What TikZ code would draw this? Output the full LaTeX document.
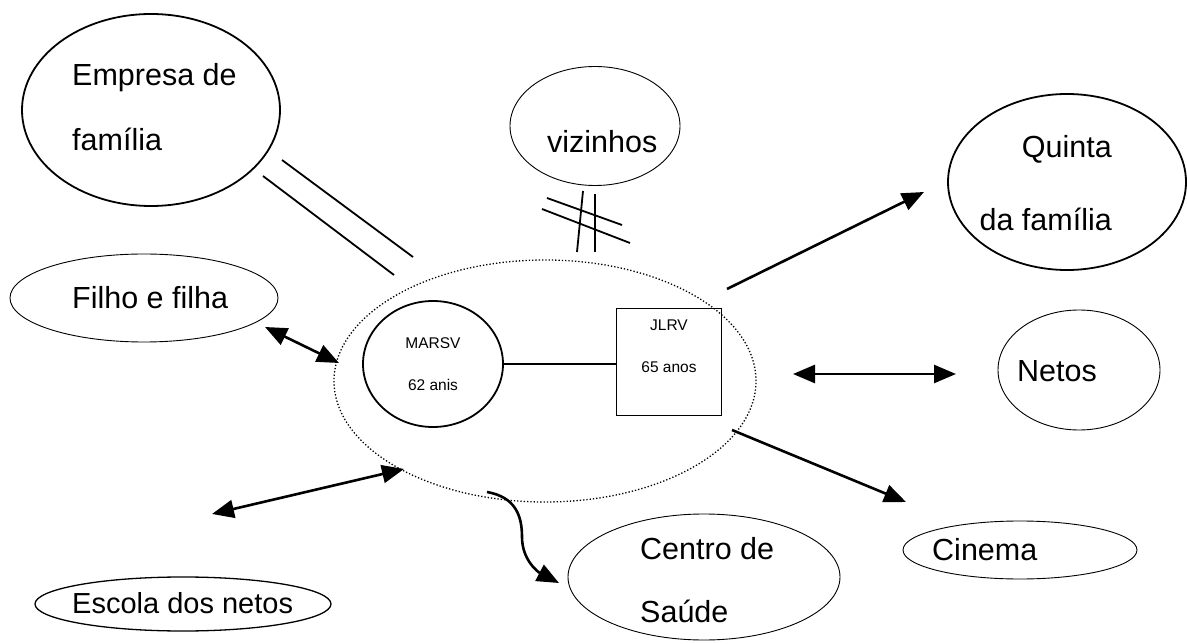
\documentclass[tikz,border=0pt]{standalone}
\usepackage{fontspec}
\setmainfont{Liberation Sans}
\usetikzlibrary{shapes.geometric,arrows.meta}
\begin{document}
\begin{tikzpicture}[x=1pt,y=-1pt,
  thickell/.style={draw, ellipse, line width=1.8pt, inner sep=0pt},
  thinell/.style={draw, ellipse, line width=0.9pt, inner sep=0pt},
  bigtxt/.style={font=\fontsize{30.5}{65}\selectfont, inner sep=0pt, align=left},
  smalltxt/.style={font=\fontsize{15.5}{42}\selectfont, inner sep=0pt, align=center},
  arr/.style={line width=2.6pt, -{Triangle[length=22pt,width=18pt]}},
  darr/.style={line width=2.6pt, {Triangle[length=22pt,width=18pt]}-{Triangle[length=22pt,width=18pt]}},
  bar/.style={line width=1.8pt}]
\useasboundingbox (0,0) rectangle (1187,644);
% ellipses
\node[thickell, minimum width=258pt, minimum height=192pt] (emp) at (151,110) {};
\node[bigtxt, anchor=west] (empt) at (72,107) {Empresa de\\família};
\node[thinell, minimum width=170pt, minimum height=119pt] (viz) at (595,126) {};
\node[bigtxt, anchor=west] (vizt) at (547,142) {vizinhos};
\node[thickell, minimum width=238pt, minimum height=176pt] (qui) at (1067,182) {};
\node[bigtxt, anchor=east, align=right, font=\fontsize{30.5}{73}\selectfont] (quit) at (1112,183) {Quinta\\da família};
\node[thinell, minimum width=268pt, minimum height=88pt] (fil) at (144,298) {};
\node[bigtxt, anchor=west] (filt) at (72,298) {Filho e filha};
\node[thinell, minimum width=162pt, minimum height=120pt] (net) at (1079,370) {};
\node[bigtxt, anchor=west] (nett) at (1017,371) {Netos};
\node[thinell, minimum width=234pt, minimum height=58pt] (cin) at (1020,550) {};
\node[bigtxt, anchor=west] (cint) at (932,550) {Cinema};
\node[thinell, minimum width=272pt, minimum height=126pt] (cen) at (704,577) {};
\node[bigtxt, anchor=west, font=\fontsize{30.5}{63}\selectfont] (cent) at (640,580) {Centro de\\Saúde};
\node[thinell, line width=1.3pt, minimum width=296pt, minimum height=54pt] (esc) at (183,604) {};
\node[bigtxt, anchor=west, font=\fontsize{29}{40}\selectfont] (esct) at (72,603) {Escola dos netos};
% family
\node[draw, ellipse, dotted, line width=1.3pt, minimum width=422pt, minimum height=242pt, inner sep=0pt] (fam) at (545,381) {};
\node[thickell, minimum width=140pt, minimum height=126pt, smalltxt] (ma) at (433,364) {MARSV\\62 anis};
\node[draw, line width=1.6pt, minimum width=105pt, minimum height=107pt, inner sep=0pt] (jl) at (669,362) {};
\node[smalltxt, anchor=north] (jlt) at (669,320) {JLRV\\65 anos};
\draw[line width=1.4pt] (ma.east) -- (jl.west |- ma.east);
% double line to Empresa
\coordinate (e1a) at (282,160); \coordinate (e1b) at (413,257);
\coordinate (e2a) at (263,176); \coordinate (e2b) at (394,275);
\draw[bar] (e1a) -- (e1b);
\draw[bar] (e2a) -- (e2b);
% hash for vizinhos
\coordinate (h1a) at (547,198); \coordinate (h1b) at (622,225);
\coordinate (h2a) at (542,209); \coordinate (h2b) at (630,243);
\coordinate (h3a) at (583,191); \coordinate (h3b) at (577,252);
\coordinate (h4a) at (595,194); \coordinate (h4b) at (595,252);
\draw[bar] (h1a) -- (h1b);
\draw[bar] (h2a) -- (h2b);
\draw[bar] (h3a) -- (h3b);
\draw[bar] (h4a) -- (h4b);
% arrows
\coordinate (qa) at (727,289); \coordinate (qb) at (924,192);
\draw[arr] (qa) -- (qb);
\coordinate (na) at (793,374); \coordinate (nb) at (956,374);
\draw[darr] (na) -- (nb);
\coordinate (ca) at (732,430); \coordinate (cb) at (906,502);
\draw[arr] (ca) -- (cb);
\coordinate (fa) at (265,327); \coordinate (fb) at (339,363);
\draw[darr] (fa) -- (fb);
\coordinate (sa) at (212,514); \coordinate (sb) at (404,469);
\draw[darr] (sa) -- (sb);
\coordinate (ra) at (487,492); \coordinate (rm) at (522,537); \coordinate (rb) at (559,583);
\draw[arr] (ra) .. controls (515,497) and (522,515) .. (rm) .. controls (522,560) and (538,572) .. (rb);
\end{tikzpicture}
\end{document}
